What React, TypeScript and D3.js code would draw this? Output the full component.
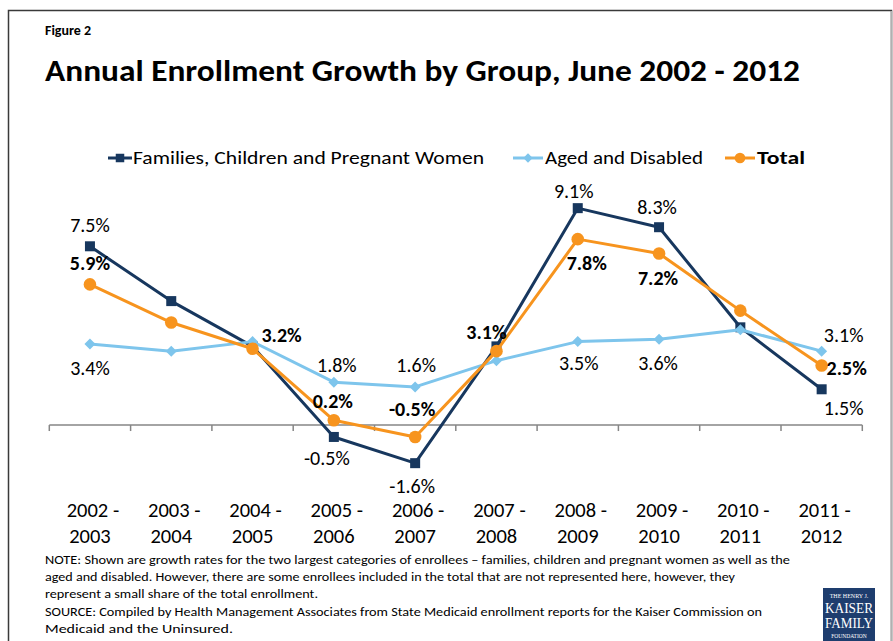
import React from "react";
import * as d3 from "d3";

const categories = ["2002 - 2003", "2003 - 2004", "2004 - 2005", "2005 - 2006", "2006 - 2007", "2007 - 2008", "2008 - 2009", "2009 - 2010", "2010 - 2011", "2011 - 2012"];
const familiesValues = [7.5, 5.2, 3.3, -0.5, -1.6, 3.3, 9.1, 8.3, 4.1, 1.5];
const agedValues = [3.4, 3.1, 3.5, 1.8, 1.6, 2.7, 3.5, 3.6, 4.0, 3.1];
const totalValues = [5.9, 4.3, 3.2, 0.2, -0.5, 3.1, 7.8, 7.2, 4.8, 2.5];
const seriesNames = ["Families, Children and Pregnant Women", "Aged and Disabled", "Total"];
const title = "Annual Enrollment Growth by Group, June 2002 - 2012";
const noteLines = [
  "NOTE: Shown are growth rates for the two largest categories of enrollees \u2013 families, children and pregnant women as well as the",
  "aged and disabled. However, there are some enrollees included in the total that are not represented here, however, they",
  "represent a small share of the total enrollment.",
  "SOURCE: Compiled by Health Management Associates from State Medicaid enrollment reports for the Kaiser Commission on",
  "Medicaid and the Uninsured.",
];

// label placement (series index, category index, dx, dy) — styling only
const labelPlacements: [number, number, number, number][] = [
  [0, 0, 0, -21], [2, 0, 0, -21], [1, 0, 0, 24],
  [2, 2, 29, -14],
  [1, 3, 3, -17], [2, 3, -1, -19], [0, 3, -7, 21],
  [1, 4, 1, -22], [2, 4, -3, -28], [0, 4, -3, 23],
  [2, 5, -10, -19],
  [0, 6, -4, -17], [2, 6, 9, 24], [1, 6, 1, 21],
  [0, 7, -2, -20], [2, 7, -1, 25], [1, 7, -1, 24],
  [1, 9, 22, -16], [2, 9, 25, 3], [0, 9, 22, 19],
];

const noteWidths = [745, 690, 273, 717, 188];

const FONT = "Carlito, Calibri, Lato, 'Open Sans', sans-serif";
const NAVY = "#17375E";
const LIGHT = "#7EC5EC";
const ORANGE = "#F7941E";

export default function App() {
  const x = d3.scaleBand<string>().domain(categories).range([49.3, 862.3]).padding(0);
  const y = d3.scaleLinear().domain([-2, 10]).range([472.7, 186.7]);
  const cx = (i: number) => (x(categories[i]) as number) + x.bandwidth() / 2;
  const line = d3.line<number>().x((_, i) => cx(i)).y((v) => y(v));
  const series = [
    { name: seriesNames[0], values: familiesValues, color: NAVY, marker: "square", bold: false },
    { name: seriesNames[1], values: agedValues, color: LIGHT, marker: "diamond", bold: false },
    { name: seriesNames[2], values: totalValues, color: ORANGE, marker: "circle", bold: true },
  ];
  const marker = (type: string, px: number, py: number, color: string, key: string, s = 1) => {
    if (type === "square") return <rect key={key} x={px - 5 * s} y={py - 5 * s} width={10 * s} height={10 * s} fill={color} />;
    if (type === "circle") return <circle key={key} cx={px} cy={py} r={6.3 * s} fill={color} />;
    const r = 5.5 * s;
    return <path key={key} d={`M${px},${py - r}L${px + r},${py}L${px},${py + r}L${px - r},${py}Z`} fill={color} />;
  };
  const y0 = y(0);
  const ticks = d3.range(categories.length + 1).map((i) => 49.3 + i * x.bandwidth());
  const legendItems = [
    { x0: 108, x1: 132, tx: 133, tw: 351 },
    { x0: 513, x1: 543, tx: 545, tw: 158 },
    { x0: 725, x1: 755, tx: 757, tw: 48 },
  ];

  return (
    <svg width={893} height={641} style={{ position: "absolute", left: 0, top: 0, background: "#fff" }} fontFamily={FONT}>
      <rect x={0} y={0} width={893} height={641} fill="#fff" />
      <path d="M8.5,641V10.5H891.5V641" fill="none" stroke="#3a3a3a" strokeWidth={1.5} />
      <line x1={891.5} y1={11} x2={891.5} y2={641} stroke="#b0b0b0" strokeWidth={1.5} />
      <text x={45} y={35} fontSize={14} fontWeight="bold" fill="#000">Figure 2</text>
      <text x={45} y={81} fontSize={31} fontWeight="bold" fill="#000" textLength={755} lengthAdjust="spacingAndGlyphs">{title}</text>

      {series.map((s, si) => (
        <g key={"leg" + si}>
          <line x1={legendItems[si].x0} x2={legendItems[si].x1} y1={158} y2={158} stroke={s.color} strokeWidth={3} />
          {marker(s.marker, (legendItems[si].x0 + legendItems[si].x1) / 2, 158, s.color, "lm" + si, 0.85)}
          <text x={legendItems[si].tx} y={164} fontSize={18} fontWeight={s.bold ? "bold" : "normal"} fill="#000" textLength={legendItems[si].tw} lengthAdjust="spacingAndGlyphs">{s.name}</text>
        </g>
      ))}

      <line x1={49.3} x2={862.3} y1={y0} y2={y0} stroke="#868686" strokeWidth={1.5} />
      {ticks.map((t, i) => (
        <line key={"t" + i} x1={t} x2={t} y1={y0} y2={y0 + 6} stroke="#868686" strokeWidth={1.5} />
      ))}
      {categories.map((c, i) => {
        const [a, b] = c.split(" - ");
        return (
          <text key={"c" + i} x={cx(i)} fontSize={20.5} textAnchor="middle" fill="#000">
            <tspan x={cx(i) + 3} y={517}>{a + " -"}</tspan>
            <tspan x={cx(i)} y={543}>{b}</tspan>
          </text>
        );
      })}

      {series.map((s, si) => (
        <g key={"s" + si}>
          <path d={line(s.values) as string} fill="none" stroke={s.color} strokeWidth={3} strokeLinejoin="round" />
          {s.values.map((v, i) => marker(s.marker, cx(i), y(v), s.color, `m${si}-${i}`))}
        </g>
      ))}

      {labelPlacements.map(([si, ci, dx, dy], k) => {
        const s = series[si];
        const v = s.values[ci];
        return (
          <text key={"l" + k} x={cx(ci) + dx} y={y(v) + dy} dy="0.35em" fontSize={20} textAnchor="middle" fontWeight={s.bold ? "bold" : "normal"} fill="#000">
            {v.toFixed(1) + "%"}
          </text>
        );
      })}

      {noteLines.map((t, i) => (
        <text key={"n" + i} x={45} y={564 + i * 17.2} fontSize={13} fill="#000" textLength={noteWidths[i]} lengthAdjust="spacingAndGlyphs">{t}</text>
      ))}

      <g>
        <rect x={823} y={588} width={52} height={56} fill="#1E3D6E" />
        <text x={849} y={598} fontSize={6} textAnchor="middle" fill="#fff" fontFamily="'Liberation Serif', serif">THE HENRY J.</text>
        <text x={849} y={613} fontSize={15} textAnchor="middle" fill="#fff" fontFamily="'Liberation Serif', serif" textLength={48} lengthAdjust="spacingAndGlyphs">KAISER</text>
        <text x={849} y={628} fontSize={15} textAnchor="middle" fill="#fff" fontFamily="'Liberation Serif', serif" textLength={48} lengthAdjust="spacingAndGlyphs">FAMILY</text>
        <text x={849} y={638} fontSize={5.5} textAnchor="middle" fill="#fff" fontFamily="'Liberation Serif', serif">FOUNDATION</text>
      </g>
    </svg>
  );
}
